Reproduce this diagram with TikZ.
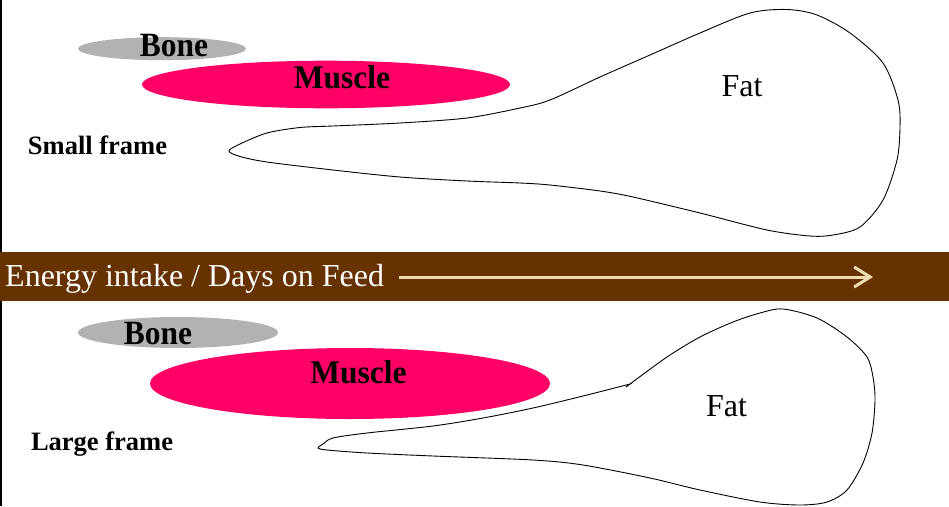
\documentclass[tikz,border=0pt]{standalone}
\usepackage{fontspec}
\setmainfont{Liberation Serif}
\usetikzlibrary{shapes.geometric,arrows.meta}
\definecolor{bonegrey}{HTML}{B2B2B2}
\definecolor{musclepink}{HTML}{FF0066}
\definecolor{barbrown}{HTML}{663300}
\definecolor{cream}{RGB}{240,220,180}
\tikzset{
  tissue/.style={ellipse, inner sep=0pt, draw=none},
  bonelbl/.style={anchor=base, inner sep=0pt, font=\fontsize{31.5}{32}\selectfont\bfseries},
  framelbl/.style={anchor=base, inner sep=0pt, font=\fontsize{26.5}{27}\selectfont\bfseries},
  fatlbl/.style={anchor=base, inner sep=0pt, font=\fontsize{32}{33}\selectfont},
  outline/.style={line width=0.9pt, black},
  arrowline/.style={line width=3pt, cream, -{Straight Barb[length=16pt,width=20pt,line width=3pt]}}
}
\begin{document}
\begin{tikzpicture}[x=1pt,y=-1pt]
\useasboundingbox (0,0) rectangle (949,506);
% left border
\draw[line width=1.5pt] (0.75,0) -- (0.75,506);
% ---------------- top: small frame ----------------
\node[tissue, fill=bonegrey, minimum width=168pt, minimum height=23pt] (bone1) at (162,48.7) {};
\node[bonelbl] (bonet1) at (174,56.7) {\scalebox{1}[1.08]{Bone}};
\node[tissue, fill=musclepink, minimum width=368pt, minimum height=47.6pt] (muscle1) at (326,84.5) {};
\node[bonelbl] (musclet1) at (342,88.3) {\scalebox{1}[1.05]{Muscle}};
\node[framelbl] (small) at (97.5,154) {Small frame};
\draw[outline] plot[smooth cycle] coordinates {
 (229,151) (240,144) (267,133) (300,127.5) (333,126) (400,123) (467,118) (520,108)
 (550,100) (600,77) (650,55) (700,33) (750,13) (787,9.5) (817,15) (850,33) (883,63)
 (898,100) (900,127) (897,160) (883,200) (860,227) (833,235) (810,236) (767,230)
 (700,213) (633,197) (600,191) (550,185) (520,183) (467,181) (400,177) (333,170)
 (267,162) (240,156.5)};
\node[fatlbl] (fat1) at (742,96.5) {Fat};
% ---------------- middle bar ----------------
\fill[barbrown] (0,252) rectangle (949,301);
\node[anchor=base west, inner sep=0pt, text=white, font=\fontsize{32}{33}\selectfont] (energy) at (5,286.7) {Energy intake / Days on Feed};
\coordinate (arrowend) at (873,277);
\draw[arrowline] ([xshift=15pt]energy.east |- arrowend) -- (arrowend);
% ---------------- bottom: large frame ----------------
\node[tissue, fill=bonegrey, minimum width=200pt, minimum height=31pt] (bone2) at (178,332.5) {};
\node[bonelbl] (bonet2) at (158,344) {\scalebox{1}[1.08]{Bone}};
\node[tissue, fill=musclepink, minimum width=400pt, minimum height=71pt] (muscle2) at (350,383.5) {};
\node[bonelbl] (musclet2) at (358.5,383) {\scalebox{1}[1.05]{Muscle}};
\node[framelbl] (large) at (102,450) {Large frame};
\draw[outline] plot[smooth] coordinates {
 (626,387) (667,357) (700,337) (733,322) (760,313) (783,309) (817,318) (847,337)
 (867,357) (873,377) (875,400) (872,433) (863,463) (847,490) (827,502) (800,505)
 (760,502) (700,490) (650,478) (583,465) (533,460) (433,456) (367,453) (327,450)
 (318,448) (323,444) (333,438) (367,433) (433,426) (483,418) (533,408) (583,396)
 (632,383.5)};
\node[fatlbl] (fat2) at (726.5,416) {Fat};
\end{tikzpicture}
\end{document}
